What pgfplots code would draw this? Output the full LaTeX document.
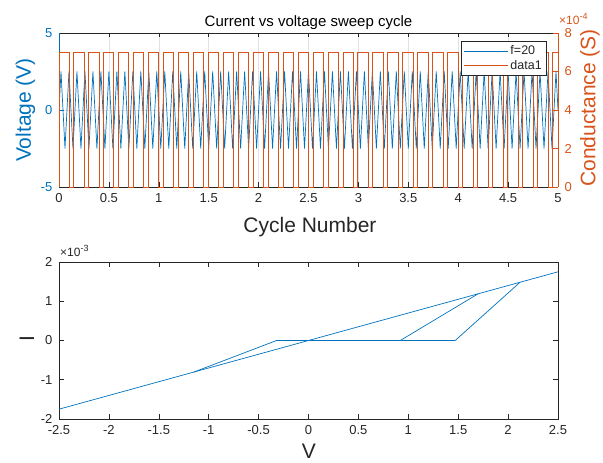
\documentclass[border=0pt]{standalone}
\usepackage{fontspec}
\setmainfont{Liberation Sans}
\usepackage{pgfplots}
\pgfplotsset{compat=1.18}
\definecolor{mblue}{HTML}{0072BD}
\definecolor{morange}{HTML}{D95319}
\definecolor{mgray}{HTML}{262626}
\definecolor{mgrid}{HTML}{E2E2E2}

\pgfplotsset{
  every axis/.append style={
    scale only axis,
    /pgf/number format/assume math mode=true,
    tick label style={font=\fontsize{13}{15}\selectfont},
    major tick length=4.5pt,
    tick align=inside,
  },
}

\begin{document}
\begin{tikzpicture}[x=1pt,y=1pt]
\useasboundingbox (0,0) rectangle (603,463);

% ---------- upper panel: voltage (left axis) ----------
\begin{axis}[
  at={(59pt,276pt)}, anchor=south west, width=499pt, height=154pt,
  xmin=0, xmax=5, ymin=-5, ymax=5,
  xtick={0,0.5,1,1.5,2,2.5,3,3.5,4,4.5,5}, ytick={-5,0,5},
  axis x line*=box, axis y line*=left,
  x axis line style={mgray, line width=0.6pt},
  y axis line style={mblue, line width=0.6pt},
  xtick style={mgray, line width=0.5pt}, ytick style={mblue, line width=0.5pt},
  xticklabel style={text=mgray, yshift=-3pt}, yticklabel style={text=mblue, xshift=-3pt},
  xmajorgrids, ymajorgrids, grid style={mgrid, line width=0.5pt},
]
\addplot[mblue, line width=0.7pt] coordinates {
(0,0)
(0.02,2.5)(0.06,-2.5)(0.10,2.5)(0.14,-2.5)(0.18,2.5)(0.22,-2.5)(0.26,2.5)(0.30,-2.5)(0.34,2.5)(0.38,-2.5)
(0.42,2.5)(0.46,-2.5)(0.50,2.5)(0.54,-2.5)(0.58,2.5)(0.62,-2.5)(0.66,2.5)(0.70,-2.5)(0.74,2.5)(0.78,-2.5)
(0.82,2.5)(0.86,-2.5)(0.90,2.5)(0.94,-2.5)(0.98,2.5)(1.02,-2.5)(1.06,2.5)(1.10,-2.5)(1.14,2.5)(1.18,-2.5)
(1.22,2.5)(1.26,-2.5)(1.30,2.5)(1.34,-2.5)(1.38,2.5)(1.42,-2.5)(1.46,2.5)(1.50,-2.5)(1.54,2.5)(1.58,-2.5)
(1.62,2.5)(1.66,-2.5)(1.70,2.5)(1.74,-2.5)(1.78,2.5)(1.82,-2.5)(1.86,2.5)(1.90,-2.5)(1.94,2.5)(1.98,-2.5)
(2.02,2.5)(2.06,-2.5)(2.10,2.5)(2.14,-2.5)(2.18,2.5)(2.22,-2.5)(2.26,2.5)(2.30,-2.5)(2.34,2.5)(2.38,-2.5)
(2.42,2.5)(2.46,-2.5)(2.50,2.5)(2.54,-2.5)(2.58,2.5)(2.62,-2.5)(2.66,2.5)(2.70,-2.5)(2.74,2.5)(2.78,-2.5)
(2.82,2.5)(2.86,-2.5)(2.90,2.5)(2.94,-2.5)(2.98,2.5)(3.02,-2.5)(3.06,2.5)(3.10,-2.5)(3.14,2.5)(3.18,-2.5)
(3.22,2.5)(3.26,-2.5)(3.30,2.5)(3.34,-2.5)(3.38,2.5)(3.42,-2.5)(3.46,2.5)(3.50,-2.5)(3.54,2.5)(3.58,-2.5)
(3.62,2.5)(3.66,-2.5)(3.70,2.5)(3.74,-2.5)(3.78,2.5)(3.82,-2.5)(3.86,2.5)(3.90,-2.5)(3.94,2.5)(3.98,-2.5)
(4.02,2.5)(4.06,-2.5)(4.10,2.5)(4.14,-2.5)(4.18,2.5)(4.22,-2.5)(4.26,2.5)(4.30,-2.5)(4.34,2.5)(4.38,-2.5)
(4.42,2.5)(4.46,-2.5)(4.50,2.5)(4.54,-2.5)(4.58,2.5)(4.62,-2.5)(4.66,2.5)(4.70,-2.5)(4.74,2.5)(4.78,-2.5)
(4.82,2.5)(4.86,-2.5)(4.90,2.5)(4.94,-2.5)(4.98,2.5)(5,0)
};
\end{axis}

% ---------- upper panel: conductance (right axis, x10^-4 S) ----------
\begin{axis}[
  at={(59pt,276pt)}, anchor=south west, width=499pt, height=154pt,
  xmin=0, xmax=5, ymin=0, ymax=8, ytick={0,2,4,6,8},
  axis x line=none, axis y line*=right,
  y axis line style={morange, line width=0.6pt},
  ytick style={morange, line width=0.5pt}, yticklabel style={text=morange, xshift=3pt},
  clip=false,
  legend cell align=left,
  legend image code/.code={\draw[#1] (0pt,0pt) -- (44pt,0pt);},
  legend style={at={(0.976,0.948)}, anchor=north east, draw=mgray, line width=0.5pt,
    fill=white, font=\fontsize{12.5}{15}\selectfont, text=mgray,
    inner xsep=2pt, inner ysep=2.5pt, row sep=0pt,
    nodes={inner sep=2pt}},
]
\addlegendimage{mblue, line width=0.7pt}
\addlegendentry{f=20}
\addplot[morange, line width=0.8pt] coordinates {
(0,0)(0,7)
(0.100,7)(0.100,0)(0.145,0)(0.145,7) (0.250,7)(0.250,0)(0.295,0)(0.295,7)
(0.400,7)(0.400,0)(0.445,0)(0.445,7) (0.550,7)(0.550,0)(0.595,0)(0.595,7)
(0.700,7)(0.700,0)(0.745,0)(0.745,7) (0.850,7)(0.850,0)(0.895,0)(0.895,7)
(1.000,7)(1.000,0)(1.045,0)(1.045,7) (1.150,7)(1.150,0)(1.195,0)(1.195,7)
(1.300,7)(1.300,0)(1.345,0)(1.345,7) (1.450,7)(1.450,0)(1.495,0)(1.495,7)
(1.600,7)(1.600,0)(1.645,0)(1.645,7) (1.750,7)(1.750,0)(1.795,0)(1.795,7)
(1.900,7)(1.900,0)(1.945,0)(1.945,7) (2.050,7)(2.050,0)(2.095,0)(2.095,7)
(2.200,7)(2.200,0)(2.245,0)(2.245,7) (2.350,7)(2.350,0)(2.395,0)(2.395,7)
(2.500,7)(2.500,0)(2.545,0)(2.545,7) (2.650,7)(2.650,0)(2.695,0)(2.695,7)
(2.800,7)(2.800,0)(2.845,0)(2.845,7) (2.950,7)(2.950,0)(2.995,0)(2.995,7)
(3.100,7)(3.100,0)(3.145,0)(3.145,7) (3.250,7)(3.250,0)(3.295,0)(3.295,7)
(3.400,7)(3.400,0)(3.445,0)(3.445,7) (3.550,7)(3.550,0)(3.595,0)(3.595,7)
(3.700,7)(3.700,0)(3.745,0)(3.745,7) (3.850,7)(3.850,0)(3.895,0)(3.895,7)
(4.000,7)(4.000,0)(4.045,0)(4.045,7) (4.150,7)(4.150,0)(4.195,0)(4.195,7)
(4.300,7)(4.300,0)(4.345,0)(4.345,7) (4.450,7)(4.450,0)(4.495,0)(4.495,7)
(4.600,7)(4.600,0)(4.645,0)(4.645,7) (4.750,7)(4.750,0)(4.795,0)(4.795,7)
(4.900,7)(4.900,0)(4.945,0)(4.945,7)
(5,7)
};
\addlegendentry{data1}
\end{axis}

% ---------- lower panel: I-V curve (I in units of 10^-3) ----------
\begin{axis}[
  at={(59pt,44pt)}, anchor=south west, width=499pt, height=157pt,
  xmin=-2.5, xmax=2.5, ymin=-2, ymax=2,
  xtick={-2.5,-2,-1.5,-1,-0.5,0,0.5,1,1.5,2,2.5}, ytick={-2,-1,0,1,2},
  axis line style={mgray, line width=0.6pt},
  tick style={mgray, line width=0.5pt},
  ticklabel style={text=mgray},
  xticklabel style={yshift=-3pt}, yticklabel style={xshift=-3pt},
]
\addplot[mblue, line width=0.7pt] coordinates {(-2.5,-1.75) (2.5,1.75)};
\addplot[mblue, line width=0.7pt] coordinates {(-1.15,-0.805) (-0.32,0) (1.47,0) (2.12,1.484)};
\addplot[mblue, line width=0.7pt] coordinates {(0.92,0) (1.70,1.19)};
\end{axis}

% ---------- titles and labels ----------
\node[anchor=base, font=\fontsize{15}{18}\selectfont] at (308.5,436) {Current vs voltage sweep cycle};
\node[rotate=90, text=mblue, font=\fontsize{21}{25}\selectfont] at (25.5,353) {Voltage (V)};
\node[rotate=90, text=morange, font=\fontsize{21}{25}\selectfont] at (590,355) {Conductance (S)};
\node[anchor=base, text=mgray, font=\fontsize{21}{25}\selectfont] at (310,230) {Cycle Number};
\node[anchor=base west, inner sep=0pt, text=morange, font=\fontsize{12}{14}\selectfont] at (559,438)
  {×10\raisebox{0.45em}{\fontsize{9}{10}\selectfont -4}};
\node[anchor=base west, inner sep=0pt, text=mgray, font=\fontsize{12}{14}\selectfont] at (60,206)
  {×10\raisebox{0.45em}{\fontsize{9}{10}\selectfont -3}};
\node[rotate=90, text=mgray, font=\fontsize{21}{25}\selectfont] at (27,124) {I};
\node[anchor=base, text=mgray, font=\fontsize{21}{25}\selectfont] at (309,4) {V};
\end{tikzpicture}
\end{document}
